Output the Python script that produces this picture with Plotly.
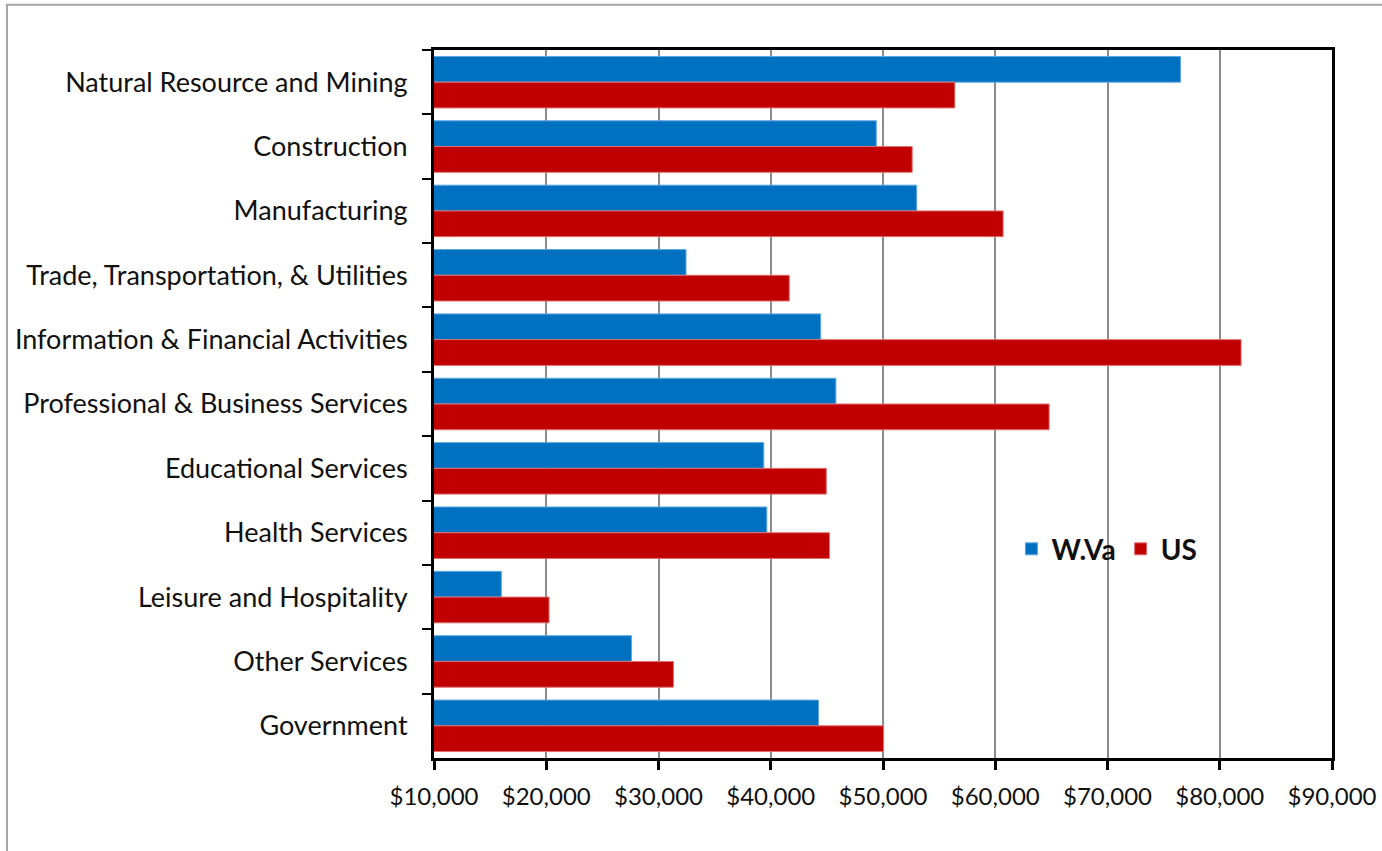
import plotly.graph_objects as go

categories = [
    "Natural Resource and Mining",
    "Construction",
    "Manufacturing",
    "Trade, Transportation, & Utilities",
    "Information & Financial Activities",
    "Professional & Business Services",
    "Educational Services",
    "Health Services",
    "Leisure and Hospitality",
    "Other Services",
    "Government",
]
wva_values = [76500, 49400, 53000, 32450, 44450, 45800, 39380, 39650, 16000, 27600, 44250]
us_values = [56400, 52600, 60700, 41650, 81900, 64800, 44950, 45230, 20250, 31330, 50050]
x_tick_values = [10000, 20000, 30000, 40000, 50000, 60000, 70000, 80000, 90000]
x_tick_labels = ["$10,000", "$20,000", "$30,000", "$40,000", "$50,000",
                 "$60,000", "$70,000", "$80,000", "$90,000"]

FONT = "Lato"
BLUE = "#0070C0"
RED = "#C00000"

fig = go.Figure()
fig.add_trace(go.Bar(
    y=categories, x=wva_values, name="W.Va", orientation="h",
    marker=dict(color=BLUE, line=dict(color="#5fa8e0", width=1)),
    base=0,
))
fig.add_trace(go.Bar(
    y=categories, x=us_values, name="US", orientation="h",
    marker=dict(color=RED, line=dict(color="#e07070", width=1)),
    base=0,
))

fig.update_layout(
    width=1382, height=851,
    margin=dict(l=434, r=50, t=50, b=93, pad=0, autoexpand=False),
    paper_bgcolor="white", plot_bgcolor="white",
    barmode="group", bargap=0.2, bargroupgap=0,
    font=dict(family=FONT, color="#111111"),
    showlegend=True,
    legend=dict(
        orientation="h", x=0.643, y=0.295, xanchor="left", yanchor="middle",
        font=dict(family=FONT, size=28, color="#111111", weight="bold"),
        bgcolor="rgba(0,0,0,0)", itemwidth=30, tracegroupgap=0,
    ),
    shapes=[dict(
        type="rect", xref="paper", yref="paper",
        x0=-0.4755, x1=1.07, y0=-0.15, y1=1.064,
        line=dict(color="#a6a6a6", width=2), fillcolor="rgba(0,0,0,0)", layer="below",
    )],
)

fig.update_xaxes(
    range=[10000, 90000],
    tickmode="array", tickvals=x_tick_values, ticktext=x_tick_labels,
    showgrid=True, gridcolor="#8c8c8c", gridwidth=2,
    showline=True, linecolor="black", linewidth=3, mirror=True,
    ticks="outside", ticklen=9, tickwidth=3, tickcolor="black",
    tickfont=dict(family=FONT, size=24, color="#111111"),
    zeroline=False, ticklabelstandoff=6, automargin=False,
)
fig.update_yaxes(
    autorange="reversed", type="category",
    showgrid=False,
    showline=True, linecolor="black", linewidth=3, mirror=True,
    ticks="outside", ticklen=9, tickwidth=2, tickcolor="black",
    tickson="boundaries",
    tickfont=dict(family=FONT, size=27, color="#111111"),
    ticklabelstandoff=18, automargin=False,
)

fig.write_html("out.html")
